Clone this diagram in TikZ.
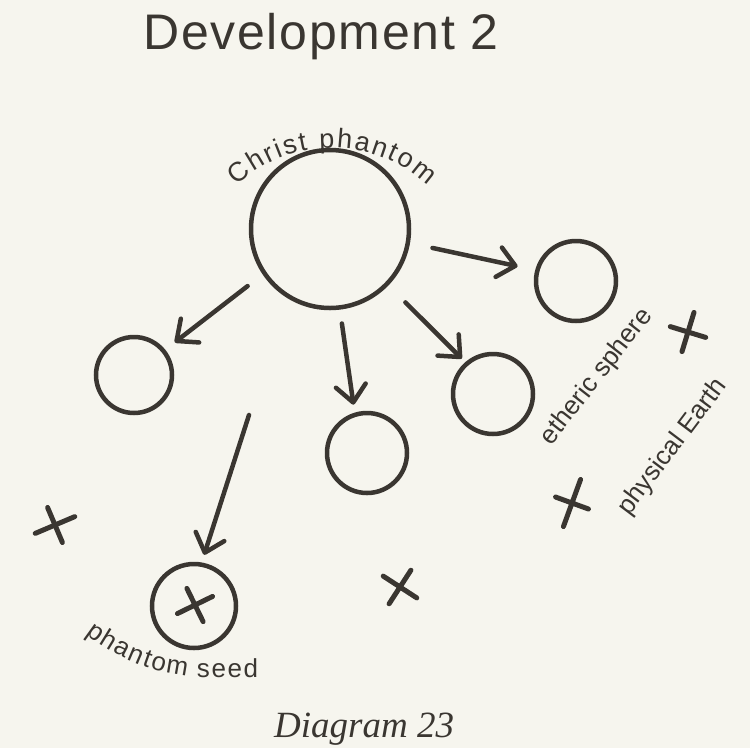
\documentclass[tikz,border=0pt]{standalone}
\usepackage{fontspec}
\newfontfamily\sanslabel{Liberation Sans}
\newfontfamily\sanstitle[LetterSpace=3.5]{Liberation Sans}
\newfontfamily\captionserif{Liberation Serif}
\usetikzlibrary{arrows.meta,decorations.text}
\definecolor{ink}{HTML}{3A3631}
\definecolor{paper}{HTML}{F6F5EE}
\tikzset{
  ring/.style={circle, draw=ink, line width=4.5pt, inner sep=0pt},
  push/.style={draw=ink, line width=4.5pt, line cap=round,
    -{Straight Barb[length=17pt,width=30pt,round]}},
  xmark/.style={draw=ink, line width=5pt, line cap=round},
  labeltext/.style={text=ink, inner sep=0pt, font=\sanslabel\fontsize{26}{30}\selectfont},
}
\begin{document}
\begin{tikzpicture}[x=1pt, y=1pt]
		%paper
		\fill[paper] (0,0) rectangle (750,-748);
		\useasboundingbox (0,0) rectangle (750,-748);
		
		%heading and caption
		\node[anchor=base west, inner sep=0pt, text=ink, font=\sanstitle\fontsize{50}{56}\selectfont] (title) at (143,-49) {Development 2};
		\node[anchor=base west, inner sep=0pt, text=ink, font=\captionserif\fontsize{37}{42}\selectfont\itshape] (caption) at (274,-737) {Diagram 23};
		
		%spheres
		\node[ring, minimum size=158pt] (christ) at (330,-229) {};
		\node[ring, minimum size=76pt] (left) at (134,-375) {};
		\node[ring, minimum size=80pt] (middle) at (367,-453) {};
		\node[ring, minimum size=80pt] (inner) at (493,-394) {};
		\node[ring, minimum size=80pt] (outer) at (576,-281) {};
		\node[ring, minimum size=84pt] (seed) at (194,-606) {};
		\coordinate (seedtail) at (249,-415);
		
		%arrows
		\draw[push, shorten <=19pt, shorten >=12pt] (christ.214) -- (left.39);
		\draw[push, shorten <=14pt, shorten >=8pt] (christ.277) -- (middle.107);
		\draw[push, shorten <=24pt, shorten >=5pt] (christ.316) -- (inner.131);
		\draw[push, shorten <=23pt, shorten >=18pt] (christ.350) -- (outer.165);
		\draw[push, shorten >=8pt] (seedtail) -- (seed.80);
		
		%crosses: x/y/turn/arm a/arm b
		\foreach \cx/\cy/\ang/\a/\b in {55/525/23/43/38, 400/587/-33/40/40, 572/503/-20/35/50, 688/332/-17/37/41, 195/605/26/39/37}{
			\draw[xmark, shift={(\cx,-\cy)}, rotate=\ang] (-\a/2,0) -- (\a/2,0) (0,-\b/2) -- (0,\b/2);
		}
		
		%labels
		\path[decorate, decoration={text along path, text align=fit to path, text color=ink,
			text={|\sanslabel\fontsize{27}{30}\selectfont|Christ phantom}}]
			(332,-288) ++(133:140) arc[start angle=133, end angle=47, radius=140];
		\path[decorate, decoration={text along path, text align=fit to path, text color=ink,
			text={|\sanslabel\fontsize{26}{30}\selectfont|phantom seed}}]
			(86,-634) .. controls (120,-660) and (160,-676) .. (200,-677) -- (258,-677);
		\node[labeltext, rotate=52] (ethlabel) at (597,-377) {etheric sphere};
		\node[labeltext, rotate=53] (earthlabel) at (673,-447) {physical Earth};
		\end{tikzpicture}
\end{document}
